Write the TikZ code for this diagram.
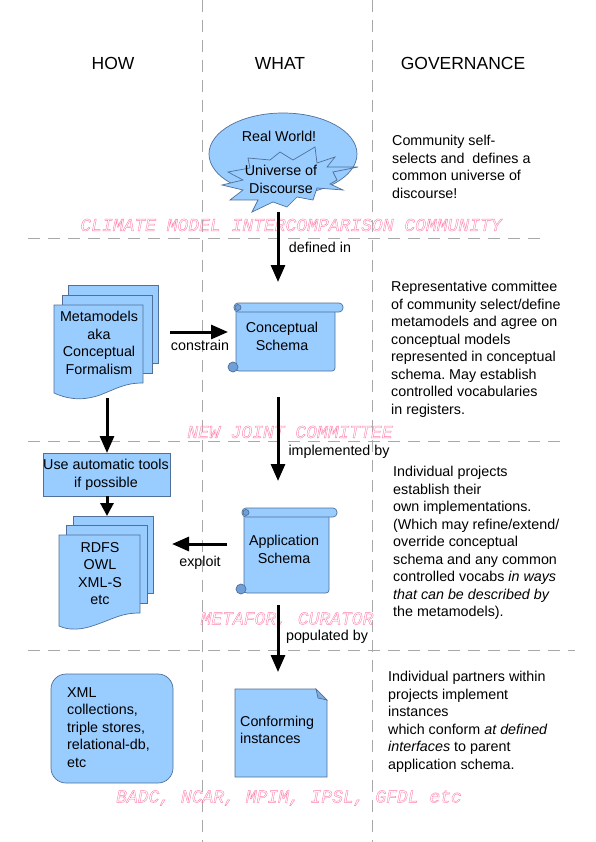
\documentclass[tikz,border=0pt]{standalone}
\usepackage{fontspec}
\setmainfont{Liberation Sans}
\newfontfamily\pinkmono{Liberation Mono}
\usetikzlibrary{arrows.meta}
\frenchspacing
\definecolor{boxblue}{HTML}{99CCFF}
\definecolor{edgeblue}{HTML}{50709A}
\definecolor{curlblue}{HTML}{6F9FD6}
\definecolor{pinklbl}{HTML}{FF7FA8}
\definecolor{dashgray}{HTML}{A8A8A8}
\newcommand\outlinetext[1]{\special{pdf:literal direct 1 Tr 0.4 w}#1\special{pdf:literal direct 0 Tr}}
\newcommand\myscroll[4]{%
  \draw[shapefill, rounded corners=3pt] ({#1+2},{#2+5}) -- ({#1+2},{#4}) -- ({#3-8},{#4}) -- ({#3-8},{#2+5}) -- cycle;
  \draw[shapefill, rounded corners=4pt] (#1,#2) rectangle (#3,{#2+9});
  \draw[edgeblue, line width=0.7pt, fill=curlblue] ({#1+4},{#2+4.5}) circle (3);
  \draw[edgeblue, line width=0.7pt, fill=curlblue] ({#1-1},{#4-4}) circle (5);
}
\begin{document}
\begin{tikzpicture}[x=1pt,y=-1pt,
  shapefill/.style={fill=boxblue, draw=edgeblue, line width=0.7pt},
  flowarrow/.style={line width=3pt, -{Triangle[length=17pt,width=14pt]}},
  smallarrow/.style={line width=3pt, -{Triangle[length=13pt,width=13pt]}},
  txt/.style={font=\fontsize{14.3}{17.5}\selectfont, inner sep=0pt, align=center,
    execute at begin node=\strut, execute at end node=\strut},
  gov/.style={txt, align=left, anchor=west},
  lbl/.style={font=\fontsize{14.3}{17.5}\selectfont, inner sep=0pt},
  headtxt/.style={font=\fontsize{17.5}{21}\selectfont, inner sep=0pt},
  pinkl/.style={font=\pinkmono\itshape\fontsize{18}{20}\selectfont, text=pinklbl, inner sep=0pt},
  divider/.style={dashgray, line width=0.8pt, dash pattern=on 12pt off 8pt}
]
\useasboundingbox[fill=white] (0,0) rectangle (595,842);

% column dividers
\draw[divider] (202,0) -- (202,842);
\draw[divider] (372,0) -- (372,842);
% row dividers
\draw[divider] (28,238) -- (540,238);
\draw[divider] (28,441) -- (560,441);
\draw[divider] (28,650) -- (575,650);

% headers
\node[headtxt] (how) at (113,63) {HOW};
\node[headtxt] (what) at (280,63) {WHAT};
\node[headtxt] (gov) at (463,63) {GOVERNANCE};

% pink community labels
\node[pinkl] (cmic) at (291,225) {\outlinetext{CLIMATE MODEL INTERCOMPARISON COMMUNITY}};
\node[pinkl] (njc) at (290,432) {\outlinetext{NEW JOINT COMMITTEE}};
\node[pinkl] (metafor) at (287,620) {\outlinetext{METAFOR, CURATOR}};
\node[pinkl] (badc) at (289,798) {\outlinetext{BADC, NCAR, MPIM, IPSL, GFDL etc}};

% Real world ellipse + starburst
\draw[shapefill] (283,154) ellipse [x radius=74, y radius=41];
\draw[shapefill] (280,152) -- (293,160) -- (315,147) -- (317,163) -- (335,157) -- (327,167)
  -- (358,167) -- (333,172) -- (337,180) -- (330,184) -- (343,190) -- (317,188) -- (313,200)
  -- (297,197) -- (287,207) -- (273,202) -- (252,212) -- (258,200) -- (230,200) -- (243,190)
  -- (222,185) -- (243,180) -- (228,172) -- (250,168) -- (248,158) -- (270,160) -- cycle;
\node[lbl] (real) at (279,136) {Real World!};
\node[txt] (uod) at (281,182) {Universe of\\Discourse};

% Metamodels stack
\draw[shapefill] (68,285) rectangle (158,363);
\draw[shapefill] (62,295) rectangle (152,373);
\draw[shapefill] (54,305) -- (143,305) -- (143,383) .. controls (125,383) and (118,388) .. (100,395)
  .. controls (80,402) and (65,398) .. (54,393) -- cycle;
\node[txt] (meta) at (99,345.5) {Metamodels\\aka\\Conceptual\\Formalism};

% Conceptual schema scroll
\myscroll{234}{303}{343}{371}
\node[txt] (cs) at (282,339) {Conceptual\\Schema};

% Use automatic tools
\draw[shapefill] (43,453) rectangle (170,496);
\node[txt] (tools) at (106,476) {Use automatic tools\\if possible};

% RDFS stack
\draw[shapefill] (73,516) rectangle (153,593);
\draw[shapefill] (66,525) rectangle (147,603);
\draw[shapefill] (59,535) -- (140,535) -- (140,613) .. controls (122,613) and (115,618) .. (98,624)
  .. controls (80,631) and (68,630) .. (59,626) -- cycle;
\node[txt] (rdfs) at (100,576) {RDFS\\OWL\\XML-S\\etc};

% Application schema scroll
\myscroll{242}{508}{337}{593}
\node[txt] (as) at (284,552) {Application\\Schema};

% XML collections
\draw[shapefill, rounded corners=15pt] (51,674) rectangle (173,783);
\node[txt, align=left, anchor=west] (xml) at (67,730) {XML\\collections,\\triple stores,\\relational-db,\\etc};

% Conforming instances
\draw[shapefill] (235,689) -- (316,689) -- (327,700) -- (327,777) -- (235,777) -- cycle;
\draw[shapefill, fill=curlblue!70!boxblue] (316,689) -- (318,698) -- (327,700) -- cycle;
\node[txt, align=left, anchor=west] (ci) at (240,732.5) {Conforming\\instances};

% connector end points
\coordinate (starB) at (278,212);
\coordinate (csT) at (278,282);
\coordinate (metaR) at (170,332);
\coordinate (csL) at (228,332);
\coordinate (metaB) at (107,398);
\coordinate (toolsT) at (107,453);
\coordinate (toolsB) at (107,496);
\coordinate (rdfsT) at (107,516);
\coordinate (csB) at (278,397);
\coordinate (asT) at (278,481);
\coordinate (asL) at (227,544);
\coordinate (rdfsR) at (172,544);
\coordinate (asB) at (278,605);
\coordinate (ciT) at (278,672);

\draw[flowarrow] (starB) -- (csT);
\draw[flowarrow] (metaR) -- (csL);
\draw[flowarrow] (metaB) -- (toolsT);
\draw[smallarrow] (toolsB) -- (rdfsT);
\draw[flowarrow] (csB) -- (asT);
\draw[flowarrow] (asL) -- (rdfsR);
\draw[flowarrow] (asB) -- (ciT);

% connector labels
\node[lbl] (l1) at (320,247) {defined in};
\node[lbl] (l2) at (200,345) {constrain};
\node[lbl] (l3) at (339,452) {implemented by};
\node[lbl] (l4) at (200,563) {exploit};
\node[lbl] (l5) at (327,637) {populated by};

% governance texts
\node[gov] (g1) at (392,169.5) {Community self-\\selects and\ \ defines a\\common universe of\\discourse!};
\node[gov] (g2) at (391,350.5) {Representative committee\\of community select/define\\metamodels and agree on\\conceptual models\\represented in conceptual\\schema. May establish\\controlled vocabularies\\in registers.};
\node[gov] (g3) at (393,544) {Individual projects\\establish their\\own implementations.\\(Which may refine/extend/\\override conceptual\\schema and any common\\controlled vocabs \textit{in ways}\\\textit{that can be described by}\\the metamodels).};
\node[gov] (g4) at (388,723) {Individual partners within\\projects implement\\instances\\which conform \textit{at defined}\\\textit{interfaces} to parent\\application schema.};
\end{tikzpicture}
\end{document}
